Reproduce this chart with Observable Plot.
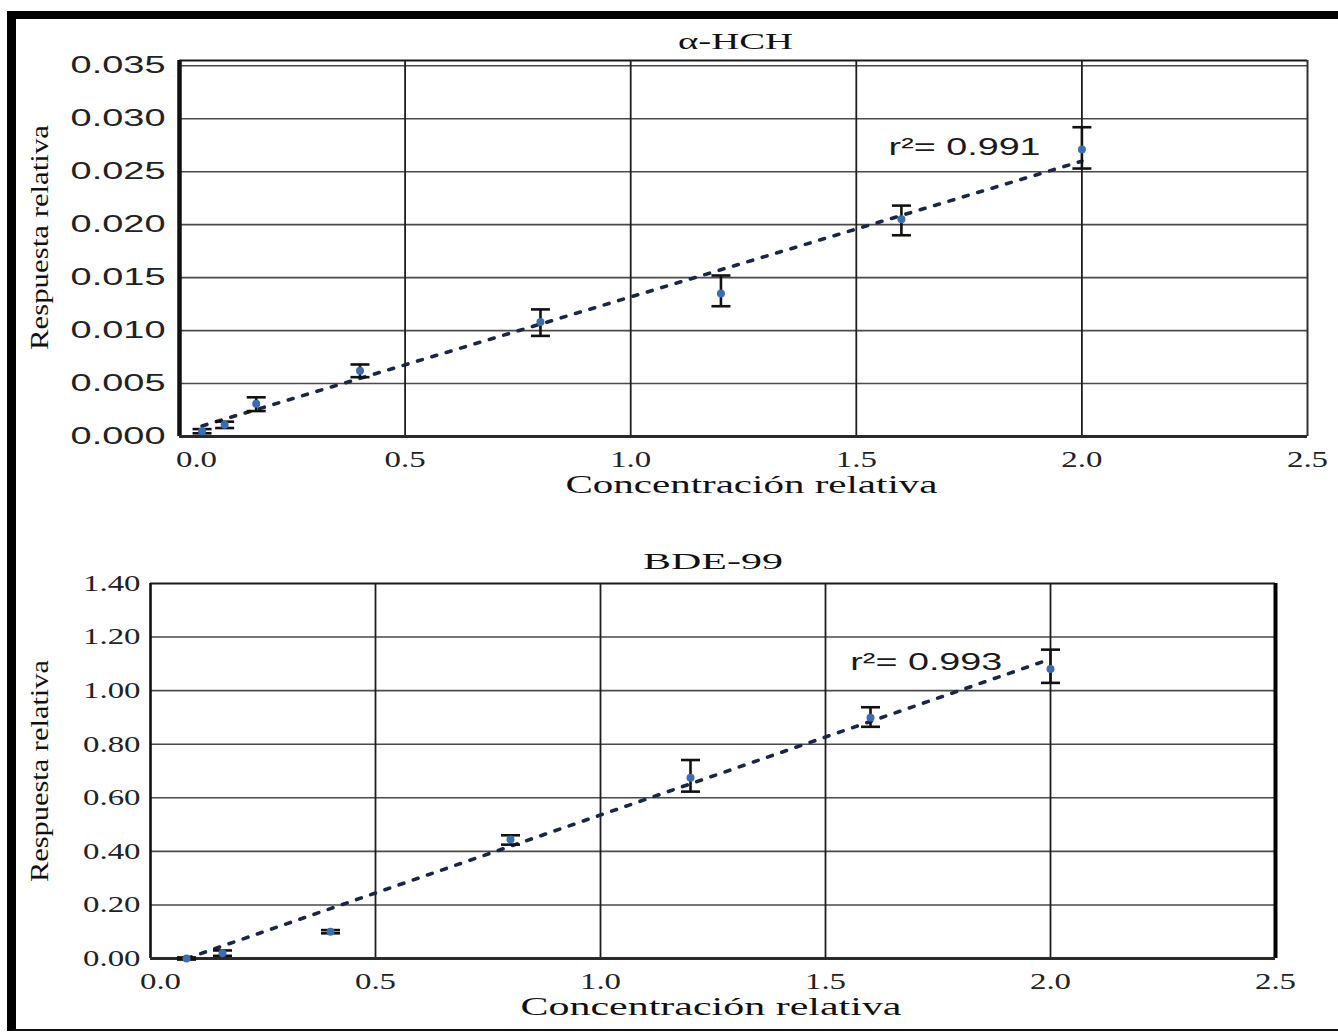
<!DOCTYPE html>
<html><head><meta charset="utf-8">
<script src="https://cdn.jsdelivr.net/npm/d3@7"></script>
<script src="https://cdn.jsdelivr.net/npm/@observablehq/plot@0.6"></script>
<style>
html,body{margin:0;padding:0;background:#fff;}
#page{position:relative;width:1338px;height:1032px;overflow:hidden;background:#fff;}
#border{position:absolute;left:7px;top:11px;width:1400px;bottom:1px;border-top:8px solid #000;border-left:9px solid #000;border-bottom:2px solid #111;}
#top,#bottom{position:absolute;left:0;width:1338px;}
#top{top:0}
#bottom{top:520px}
</style></head><body>
<div id="page"><div id="border"></div><div id="top"></div><div id="bottom"></div></div>
<script>
// ---- α-HCH data ----
const hchConc = [0.05, 0.10, 0.17, 0.40, 0.80, 1.20, 1.60, 2.00];
const hchResp = [0.0005, 0.0011, 0.0031, 0.0062, 0.0108, 0.0135, 0.0205, 0.0271];
const hchLow  = [0.0003, 0.0008, 0.0024, 0.0056, 0.0095, 0.0123, 0.0190, 0.0253];
const hchHigh = [0.0007, 0.0014, 0.0037, 0.0068, 0.0120, 0.0152, 0.0218, 0.0292];
const hchFitX = [0.05, 2.00];
const hchFitY = [0.0010, 0.0260];
const hchYTicks = [0, 0.005, 0.010, 0.015, 0.020, 0.025, 0.030, 0.035];
const hchTitle = "α-HCH";
const hchR2 = "r²= 0.991";

// ---- BDE-99 data ----
const bdeConc = [0.08, 0.16, 0.40, 0.80, 1.20, 1.60, 2.00];
const bdeResp = [0.000, 0.020, 0.100, 0.444, 0.675, 0.899, 1.081];
const bdeLow  = [-0.004, 0.010, 0.094, 0.425, 0.623, 0.865, 1.029];
const bdeHigh = [0.004, 0.030, 0.106, 0.460, 0.741, 0.938, 1.153];
const bdeFitX = [0.08, 2.00];
const bdeFitY = [0.000, 1.118];
const bdeYTicks = [0, 0.2, 0.4, 0.6, 0.8, 1.0, 1.2, 1.4];
const bdeTitle = "BDE-99";
const bdeR2 = "r²= 0.993";

const xTicks = [0, 0.5, 1.0, 1.5, 2.0, 2.5];
const xLabel = "Concentración relativa";
const yLabel = "Respuesta relativa";

const capSymbol = {draw(ctx, size) { const r = Math.sqrt(size / Math.PI); ctx.moveTo(-r, 0); ctx.lineTo(r, 0); }};

function table(conc, resp, low, high) {
  return conc.map((x, i) => ({x, y: resp[i], lo: low[i], hi: high[i]}));
}

function stretch(svg, targets) {
  svg.querySelectorAll("text").forEach(t => {
    const s = t.textContent;
    const w = t.getComputedTextLength();
    if (!w) return;
    let target;
    if (targets[s] != null) target = targets[s];
    else {
      const ff = getComputedStyle(t).fontFamily || "";
      target = w * (ff.includes("Sans") ? 1.58 : 1.43);
    }
    t.setAttribute("textLength", target);
    t.setAttribute("lengthAdjust", "spacingAndGlyphs");
  });
}

function panel(o) {
  const data = table(o.conc, o.resp, o.low, o.high);
  const fit = o.fitX.map((x, i) => ({x, y: o.fitY[i]}));
  const yTop = o.yDomain[1];
  const innerY = o.yTicks.filter(v => v > 0 && v < yTop * 0.99);
  return Plot.plot({
    width: 1338, height: o.height,
    marginTop: o.mt, marginBottom: o.mb, marginLeft: o.ml, marginRight: o.mr,
    x: {domain: [0, 2.5]},
    y: {domain: o.yDomain},
    style: {background: "transparent", fontFamily: "Liberation Serif", overflow: "visible", color: "#1a1a1a"},
    marks: [
      Plot.gridY(innerY, {stroke: "#4a4a4a", strokeOpacity: 1, strokeWidth: 1.6}),
      Plot.gridX([0.5, 1.0, 1.5, 2.0], {stroke: "#1e1e1e", strokeOpacity: 1, strokeWidth: 1.8}),
      Plot.ruleY([yTop], {stroke: "#1a1a1a", strokeWidth: 2.2}),
      Plot.ruleX([2.5], {stroke: o.rightColor, strokeWidth: o.rightWidth}),
      Plot.ruleX([0], {stroke: "#111", strokeWidth: o.leftWidth}),
      Plot.ruleY([0], {stroke: "#2a2a2a", strokeWidth: 3}),
      Plot.line(fit, {x: "x", y: "y", stroke: "#1a2744", strokeWidth: 3.6, strokeDasharray: "5,10"}),
      Plot.ruleX(data, {x: "x", y1: "lo", y2: "hi", stroke: "#111", strokeWidth: 2.6}),
      Plot.dot(data, {x: "x", y: "lo", symbol: capSymbol, r: 9.5, fill: "none", stroke: "#111", strokeWidth: 2.6}),
      Plot.dot(data, {x: "x", y: "hi", symbol: capSymbol, r: 9.5, fill: "none", stroke: "#111", strokeWidth: 2.6}),
      Plot.dot(data, {x: "x", y: "y", r: 4, fill: "#3c6db0"}),
      Plot.axisY(o.yTicks, {tickSize: 0, tickPadding: o.yPad, fontSize: o.yFontSize, fontFamily: o.yFont, tickFormat: d3.format(o.yFormat), label: null, fill: "#222"}),
      Plot.axisX(xTicks.slice(1), {tickSize: 0, tickPadding: 14, fontSize: 23, fontFamily: "Liberation Serif", tickFormat: d3.format(".1f"), label: null, fill: "#222"}),
      Plot.axisX([0], {tickSize: 0, tickPadding: 14, fontSize: 23, fontFamily: "Liberation Serif", tickFormat: d3.format(".1f"), label: null, fill: "#222", dx: o.zeroDx}),
      Plot.text([o.title], {text: d => d, frameAnchor: "top", textAnchor: "middle", lineAnchor: "bottom", dx: o.titleDx, dy: o.titleDy, fontSize: 23, fontFamily: "Liberation Serif", fill: "#111"}),
      Plot.text([xLabel], {text: d => d, frameAnchor: "bottom", textAnchor: "middle", lineAnchor: "bottom", dx: o.xLabDx, dy: 56, fontSize: 26, fontFamily: "Liberation Serif", fill: "#111"}),
      Plot.text([yLabel], {text: d => d, frameAnchor: "left", textAnchor: "middle", lineAnchor: "bottom", rotate: -90, dx: o.yLabDx, dy: o.yLabDy, fontSize: 26, fontFamily: "Liberation Serif", fill: "#111"}),
      Plot.text([o.r2], {text: d => d, x: o.r2x, y: o.r2y, textAnchor: "middle", fontSize: 24, fontFamily: "Liberation Sans", fill: "#1a1a1a"})
    ]
  });
}

const topChart = panel({
  conc: hchConc, resp: hchResp, low: hchLow, high: hchHigh, fitX: hchFitX, fitY: hchFitY,
  yTicks: hchYTicks, yDomain: [0, 0.0355], yFormat: ".3f", yFont: "Liberation Sans", yFontSize: 24, yPad: 14,
  height: 500, mt: 60, mb: 64, ml: 179, mr: 31,
  rightColor: "#333", rightWidth: 2, leftWidth: 4.5,
  zeroDx: 17, title: hchTitle, titleDx: -8, titleDy: -12, xLabDx: 8, yLabDx: -132, yLabDy: -11,
  r2: hchR2, r2x: 1.74, r2y: 0.0273
});
const bottomChart = panel({
  conc: bdeConc, resp: bdeResp, low: bdeLow, high: bdeHigh, fitX: bdeFitX, fitY: bdeFitY,
  yTicks: bdeYTicks, yDomain: [0, 1.4], yFormat: ".2f", yFont: "Liberation Serif", yFontSize: 23, yPad: 10,
  height: 512, mt: 63, mb: 74, ml: 150, mr: 63,
  rightColor: "#000", rightWidth: 4, leftWidth: 2.6,
  zeroDx: 10, title: bdeTitle, titleDx: 0, titleDy: -15, xLabDx: -2, yLabDx: -103, yLabDy: 0,
  r2: bdeR2, r2x: 1.724, r2y: 1.106
});
document.getElementById("top").appendChild(topChart);
document.getElementById("bottom").appendChild(bottomChart);
stretch(topChart, {[hchTitle]: 115, [xLabel]: 372, [yLabel]: 225, [hchR2]: 152});
stretch(bottomChart, {[bdeTitle]: 140, [xLabel]: 381, [yLabel]: 222, [bdeR2]: 152});
</script>
</body></html>
